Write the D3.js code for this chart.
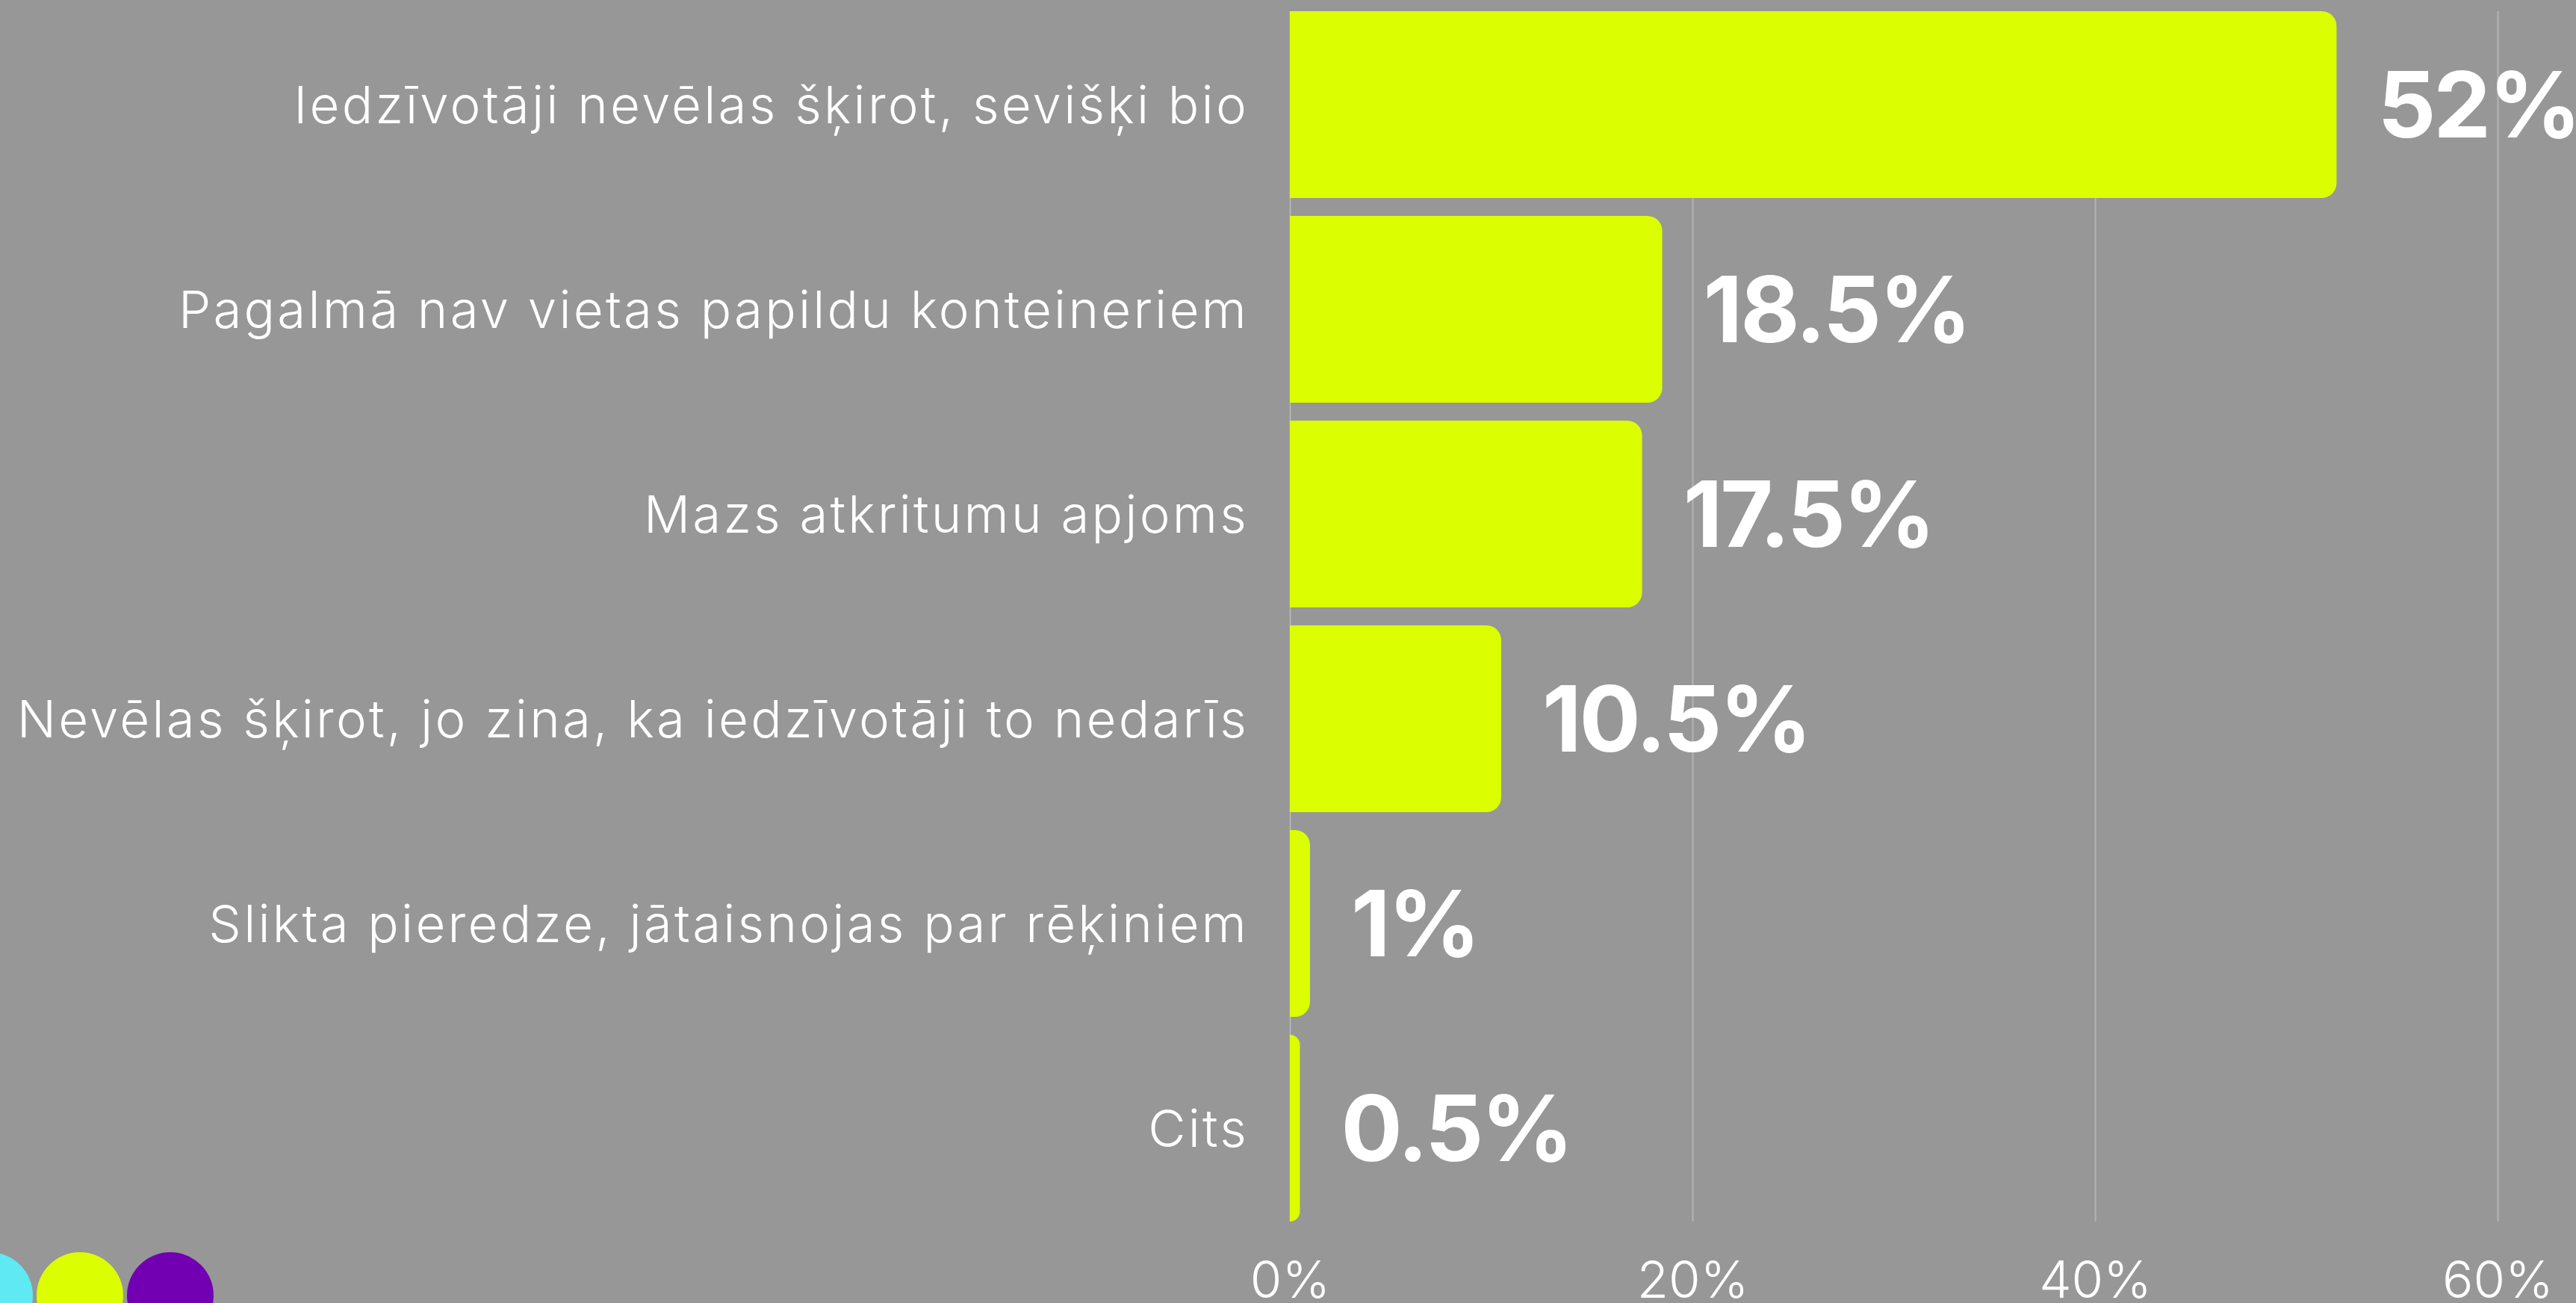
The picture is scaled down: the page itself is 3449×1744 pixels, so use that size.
<!DOCTYPE html>
<html>
<head>
<meta charset="utf-8">
<script src="https://cdn.jsdelivr.net/npm/d3@7"></script>
<style>
  html, body { margin: 0; padding: 0; background: #979797; }
  svg { display: block; }
</style>
</head>
<body>
<svg id="chart" width="3449" height="1744"></svg>
<script>
// Reasons given for not sorting waste (share of answers)
const categories = [
  "Iedzīvotāji nevēlas šķirot, sevišķi bio",
  "Pagalmā nav vietas papildu konteineriem",
  "Mazs atkritumu apjoms",
  "Nevēlas šķirot, jo zina, ka iedzīvotāji to nedarīs",
  "Slikta pieredze, jātaisnojas par rēķiniem",
  "Cits"
];
const values = [52, 18.5, 17.5, 10.5, 1, 0.5];
const valueLabels = ["52%", "18.5%", "17.5%", "10.5%", "1%", "0.5%"];
const tickValues = [0, 20, 40, 60];
const tickLabels = ["0%", "20%", "40%", "60%"];
const logoColors = ["#5fe9f2", "#dcff00", "#7200b2"];

const W = 3449, H = 1744;
const plot = { left: 1727, right: 3344, top: 15, bottom: 1635 };

const svg = d3.select("#chart");
svg.append("rect").attr("width", W).attr("height", H).attr("fill", "#979797");

const x = d3.scaleLinear().domain([0, 60]).range([plot.left, plot.right]);
const y = d3.scaleBand().domain(categories).range([plot.top, plot.bottom])
  .paddingInner(0.0875).paddingOuter(0);

// vertical gridlines
const grid = d3.axisBottom(x).tickValues(tickValues)
  .tickSize(-(plot.bottom - plot.top)).tickFormat("");
svg.append("g")
  .attr("transform", `translate(0,${plot.bottom})`)
  .call(grid)
  .call(g => g.select(".domain").remove())
  .call(g => g.selectAll("line").attr("stroke", "#b4b4b4").attr("stroke-width", 2));

// bars with rounded right ends
function barPath(x0, x1, y0, h, r) {
  const w = x1 - x0;
  const rr = Math.min(r, w, h / 2);
  return `M${x0},${y0}H${x1 - rr}A${rr},${rr} 0 0 1 ${x1},${y0 + rr}` +
         `V${y0 + h - rr}A${rr},${rr} 0 0 1 ${x1 - rr},${y0 + h}H${x0}Z`;
}
const rows = categories.map((c, i) => ({ c, v: values[i], label: valueLabels[i] }));

svg.append("g").selectAll("path").data(rows).join("path")
  .attr("d", d => barPath(x(0), x(d.v), y(d.c), y.bandwidth(), 20))
  .attr("fill", "#dbff00");

// value labels
svg.append("g").selectAll("text").data(rows).join("text")
  .attr("x", d => x(d.v) + 55)
  .attr("y", d => y(d.c) + y.bandwidth() / 2)
  .attr("dy", "0.36em")
  .attr("fill", "#ffffff")
  .style("font-family", "Inter, 'Open Sans', sans-serif")
  .style("font-weight", 700)
  .style("font-size", "122px")
  .style("letter-spacing", "-3px")
  .text(d => d.label);

// category labels
const yAxis = d3.axisLeft(y).tickSize(0).tickPadding(55);
svg.append("g")
  .attr("transform", `translate(${plot.left},0)`)
  .call(yAxis)
  .call(g => g.select(".domain").remove())
  .call(g => g.selectAll("text")
    .attr("fill", "#ffffff")
    .attr("dy", "0.36em")
    .style("font-family", "Inter, 'Open Sans', sans-serif")
    .style("font-weight", 300)
    .style("font-size", "69px")
    .style("letter-spacing", "3.2px"));

// percentage ticks
const xAxis = d3.axisBottom(x).tickValues(tickValues).tickSize(0)
  .tickFormat((d, i) => tickLabels[i]);
svg.append("g")
  .attr("transform", `translate(0,${plot.bottom})`)
  .call(xAxis)
  .call(g => g.select(".domain").remove())
  .call(g => g.selectAll("text")
    .attr("y", 102).attr("dy", 0)
    .attr("fill", "#ffffff")
    .style("font-family", "Inter, 'Open Sans', sans-serif")
    .style("font-weight", 300)
    .style("font-size", "69px"));

// logo dots in the lower left corner
svg.append("g").selectAll("circle").data(logoColors).join("circle")
  .attr("cx", (d, i) => -14 + i * 121)
  .attr("cy", 1734)
  .attr("r", 58)
  .attr("fill", d => d);
</script>
</body>
</html>
